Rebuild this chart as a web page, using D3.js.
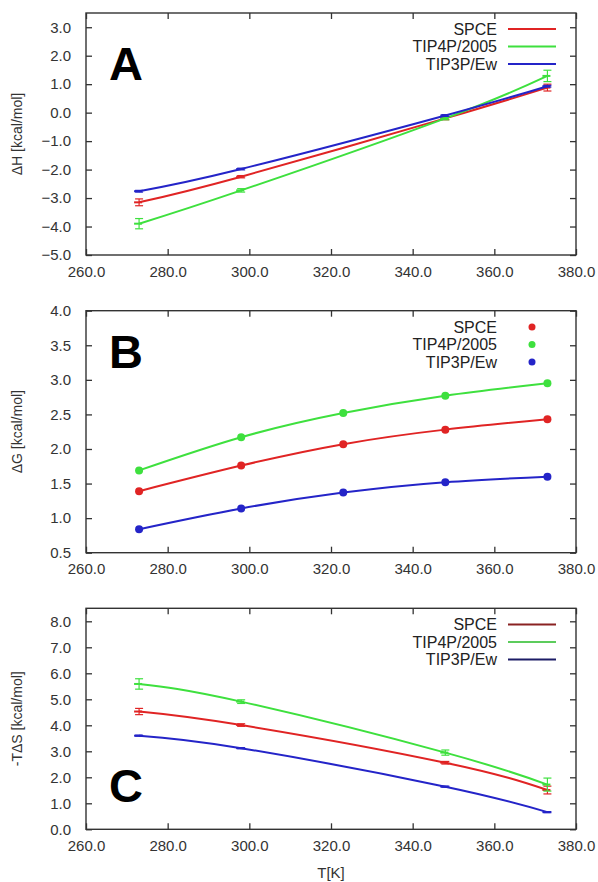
<!DOCTYPE html>
<html><head><meta charset="utf-8">
<script src="https://cdn.jsdelivr.net/npm/d3@7"></script>
<style>
body{margin:0;background:#fff;}
svg{display:block;}
text{font-family:"Liberation Sans",Arial,Helvetica,sans-serif;}
</style></head>
<body>
<svg id="chart" width="598" height="882"></svg>
<script>
// ---- data ----
const seriesNames = ["SPCE", "TIP4P/2005", "TIP3P/Ew"];
const tempsHS = [273, 298, 348, 373];
const tempsG = [273, 298, 323, 348, 373];

const dH_SPCE = [-3.15, -2.25, -0.20, 0.88];
const dH_TIP4P = [-3.90, -2.73, -0.20, 1.29];
const dH_TIP3P = [-2.76, -1.98, -0.10, 0.93];
const dHerr_SPCE = [0.12, 0.04, 0.05, 0.12];
const dHerr_TIP4P = [0.18, 0.06, 0.05, 0.20];
const dHerr_TIP3P = [0.03, 0.03, 0.03, 0.03];

const dG_SPCE = [1.39, 1.76, 2.07, 2.28, 2.43];
const dG_TIP4P = [1.69, 2.17, 2.52, 2.77, 2.95];
const dG_TIP3P = [0.84, 1.14, 1.37, 1.52, 1.60];

const TdS_SPCE = [4.53, 4.01, 2.56, 1.51];
const TdS_TIP4P = [5.59, 4.91, 2.95, 1.72];
const TdS_TIP3P = [3.60, 3.12, 1.64, 0.66];
const TdSerr_SPCE = [0.12, 0.05, 0.05, 0.15];
const TdSerr_TIP4P = [0.20, 0.07, 0.10, 0.25];
const TdSerr_TIP3P = [0.02, 0.02, 0.02, 0.02];

const xTicks = [260, 280, 300, 320, 340, 360, 380];
const yTicksA = [-5, -4, -3, -2, -1, 0, 1, 2, 3];
const yTicksB = [0.5, 1.0, 1.5, 2.0, 2.5, 3.0, 3.5, 4.0];
const yTicksC = [0, 1, 2, 3, 4, 5, 6, 7, 8];

// ---- styles ----
const lineColors = ["#e02424", "#3ee03e", "#2424c8"];
const legendColorsC = ["#8a2222", "#5ccc5c", "#1c1c66"];
const svg = d3.select("#chart");
const L = 86, R = 576;
const x = d3.scaleLinear().domain([260, 380]).range([L, R]);
const fmt = d3.format(".1f");

function panel(cfg) {
  const y = d3.scaleLinear().domain(cfg.ydom).range([cfg.bottom, cfg.top]);
  const g = svg.append("g");
  // frame
  g.append("rect").attr("x", L).attr("y", cfg.top).attr("width", R - L).attr("height", cfg.bottom - cfg.top)
    .attr("fill", "none").attr("stroke", "#333").attr("stroke-width", 1.4);
  // axes with inward ticks
  const ax = g.append("g").attr("transform", `translate(0,${cfg.bottom})`)
    .call(d3.axisBottom(x).tickValues(xTicks).tickFormat(fmt).tickSizeInner(-6).tickSizeOuter(0).tickPadding(14));
  const axT = g.append("g").attr("transform", `translate(0,${cfg.top})`)
    .call(d3.axisTop(x).tickValues(xTicks).tickSizeInner(-6).tickSizeOuter(0).tickFormat(""));
  const ay = g.append("g").attr("transform", `translate(${L},0)`)
    .call(d3.axisLeft(y).tickValues(cfg.yticks).tickFormat(fmt).tickSizeInner(-6).tickSizeOuter(0).tickPadding(15));
  const ayR = g.append("g").attr("transform", `translate(${R},0)`)
    .call(d3.axisRight(y).tickValues(cfg.yticks).tickSizeInner(-6).tickSizeOuter(0).tickFormat(""));
  [ax, axT, ay, ayR].forEach(a => {
    a.select(".domain").remove();
    a.selectAll(".tick line").attr("stroke", "#333").attr("stroke-width", 1.3);
    a.selectAll("text").attr("font-size", 15).attr("fill", "#333").attr("font-family", '"Liberation Sans",Arial,sans-serif');
  });
  ax.selectAll("text").attr("dy", "0.5em");
  // y label
  g.append("text").attr("transform", `translate(22,${(cfg.top + cfg.bottom) / 2}) rotate(-90)`)
    .attr("text-anchor", "middle").attr("font-size", 14).attr("fill", "#333").text(cfg.ylabel);
  // lines
  const line = d3.line().x(d => x(d[0])).y(d => y(d[1])).curve(d3.curveNatural);
  cfg.series.forEach((s, i) => {
    const pts = cfg.temps.map((t, k) => [t, s.vals[k]]);
    g.append("path").attr("d", line(pts)).attr("fill", "none").attr("stroke", lineColors[i]).attr("stroke-width", 2);
    if (s.err) {
      cfg.temps.forEach((t, k) => {
        const cx = x(t), y0 = y(s.vals[k] - s.err[k]), y1 = y(s.vals[k] + s.err[k]);
        g.append("line").attr("x1", cx).attr("x2", cx).attr("y1", y0).attr("y2", y1).attr("stroke", lineColors[i]).attr("stroke-width", 1.2);
        [y0, y1].forEach(yy => g.append("line").attr("x1", cx - 4).attr("x2", cx + 4).attr("y1", yy).attr("y2", yy)
          .attr("stroke", lineColors[i]).attr("stroke-width", 1.2));
        g.append("line").attr("x1", cx - 5).attr("x2", cx + 3).attr("y1", y(s.vals[k])).attr("y2", y(s.vals[k]))
          .attr("stroke", lineColors[i]).attr("stroke-width", 2);
      });
    }
    if (cfg.dots) {
      g.selectAll(null).data(pts).enter().append("circle").attr("cx", d => x(d[0])).attr("cy", d => y(d[1]))
        .attr("r", 4).attr("fill", lineColors[i]);
    }
  });
  // legend
  seriesNames.forEach((n, i) => {
    const ly = cfg.legendY + i * 17.5;
    g.append("text").attr("x", 497).attr("y", ly).attr("dy", "0.36em").attr("text-anchor", "end")
      .attr("font-size", 16).attr("fill", "#222").text(n);
    if (cfg.dots) {
      g.append("circle").attr("cx", 532).attr("cy", ly).attr("r", 3.5).attr("fill", lineColors[i]);
    } else {
      g.append("line").attr("x1", 508).attr("x2", 556).attr("y1", ly).attr("y2", ly)
        .attr("stroke", cfg.legendColors[i]).attr("stroke-width", 2);
    }
  });
  // panel letter
  g.append("text").attr("x", cfg.letterX).attr("y", cfg.letterY).attr("font-size", 47).attr("font-weight", "bold")
    .attr("fill", "#000").text(cfg.letter);
}

panel({top: 13, bottom: 255, ydom: [-5, 3.5], yticks: yTicksA, ylabel: "ΔH [kcal/mol]", temps: tempsHS,
  series: [{vals: dH_SPCE, err: dHerr_SPCE}, {vals: dH_TIP4P, err: dHerr_TIP4P}, {vals: dH_TIP3P, err: dHerr_TIP3P}],
  legendY: 29, legendColors: lineColors, letter: "A", letterX: 109, letterY: 80});
panel({top: 310.7, bottom: 552.7, ydom: [0.5, 4.0], yticks: yTicksB, ylabel: "ΔG [kcal/mol]", temps: tempsG,
  series: [{vals: dG_SPCE}, {vals: dG_TIP4P}, {vals: dG_TIP3P}], dots: true,
  legendY: 327, letter: "B", letterX: 109, letterY: 368});
panel({top: 608.3, bottom: 829.3, ydom: [0, 8.5], yticks: yTicksC, ylabel: "-TΔS [kcal/mol]", temps: tempsHS,
  series: [{vals: TdS_SPCE, err: TdSerr_SPCE}, {vals: TdS_TIP4P, err: TdSerr_TIP4P}, {vals: TdS_TIP3P, err: TdSerr_TIP3P}],
  legendY: 624.5, legendColors: legendColorsC, letter: "C", letterX: 109, letterY: 802});

svg.append("text").attr("x", 331).attr("y", 878).attr("text-anchor", "middle").attr("font-size", 15).attr("fill", "#333").text("T[K]");
</script>
</body></html>
